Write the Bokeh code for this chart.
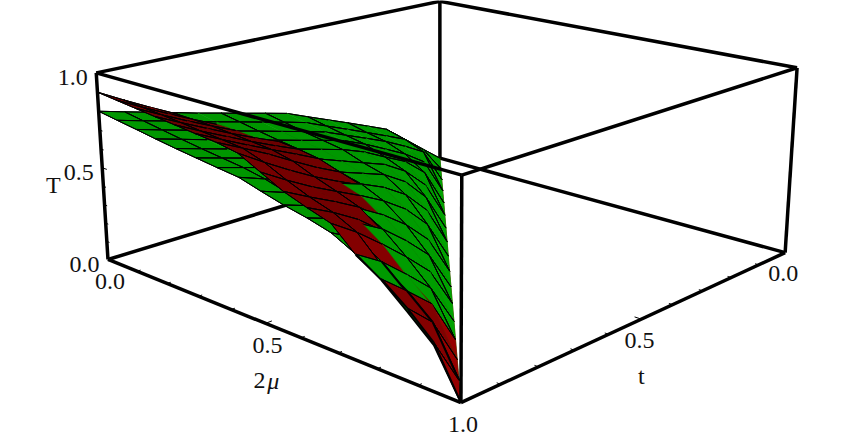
import numpy as np
from bokeh.plotting import figure
from bokeh.models import Range1d, ColumnDataSource
from bokeh.core.properties import value
from bokeh.embed import file_html
from bokeh.resources import INLINE

N = 16
levels = [i / N for i in range(N + 1)]   # shared grid of 2mu and t
tick_labels = ["0.0", "0.5", "1.0"]

# T x 1000; row j is t = j/16, entry k is 2mu = k/16, for 2mu <= t
green = [
 [0],
 [95,0],
 [191,156,0],
 [286,254,207,0],
 [338,308,276,213,0],
 [389,361,338,295,217,0],
 [439,413,390,358,318,215,0],
 [489,464,441,420,378,330,216,0],
 [540,516,492,473,441,403,340,218,0],
 [572,550,527,508,488,447,415,341,215,0],
 [603,582,560,541,523,492,458,417,336,212,0],
 [635,615,594,575,558,537,500,471,418,330,211,0],
 [666,647,627,607,591,575,543,511,483,420,326,210,0],
 [700,681,662,643,627,610,589,554,526,491,425,325,212,0],
 [733,715,696,677,660,645,630,598,567,540,494,430,323,213,0],
 [766,748,730,712,695,680,665,642,609,581,555,499,427,322,216,0],
 [800,782,765,747,730,715,700,686,653,622,597,565,504,426,323,215,0],
]
red = [
 [0],
 [57,0],
 [115,118,0],
 [172,183,173,0],
 [204,226,224,132,0],
 [252,279,268,262,206,0],
 [303,327,321,310,284,150,0],
 [359,379,374,364,347,276,130,0],
 [420,436,431,423,406,378,287,131,0],
 [470,482,482,471,458,431,393,314,129,0],
 [522,530,529,518,507,480,448,392,334,127,0],
 [577,581,579,569,558,539,501,465,389,327,131,0],
 [634,634,630,621,610,598,560,521,482,401,314,148,0],
 [696,693,687,677,666,655,628,581,541,497,415,317,200,0],
 [761,755,746,737,725,713,699,650,601,563,512,429,314,224,0],
 [829,819,809,798,785,774,762,724,670,623,585,527,410,330,226,0],
 [900,887,874,861,849,836,824,803,745,687,646,609,500,430,339,226,0],
]

# camera of the 3D box: unit-cube corners and where the reference shows them
cube = [(0,1,0),(0,1,1),(1,1,0),(1,1,1),(1,0,0),(1,0,1),(0,0,0),(0,0,1)]
seen = [(107,259),(96,73),(461,402),(461,174),(784,253),(797,67),(440,157),(439,1)]
A = []
for (X,Y,Z),(u,v) in zip(cube,seen):
    A.append([X,Y,Z,1,0,0,0,0,-u*X,-u*Y,-u*Z,-u])
    A.append([0,0,0,0,X,Y,Z,1,-v*X,-v*Y,-v*Z,-v])
P = np.linalg.svd(np.array(A,float))[2][-1].reshape(3,4)
if P[2,3] < 0: P = -P
def proj(m,t,z):
    h = P @ np.array([m,t,z,1.0]); return h[0]/h[2], h[1]/h[2], h[2]

def mesh_mu(i): return True
def mesh_t(j): return j % 2 == 1 or j == N
def mesh_w(a,b):
    if b >= N-1 and a >= 12: return 2.0
    return 1.0

cells = []
for i in range(N):
    for j in range(i,N):
        w = proj((levels[i]+levels[i+1])/2,(levels[j]+levels[j+1])/2,0)[2]
        cells.append((w,i,j))
cells.sort(reverse=True)

xs,ys,fc,fa,lc,lw = [],[],[],[],[],[]
def add(x,y,f,a,l,wd):
    xs.append(x);ys.append(y);fc.append(f);fa.append(a);lc.append(l);lw.append(wd)
for w,i,j in cells:
    q = [(i,j+1),(i+1,j+1),(i+1,j),(i,j)]
    q = [(a,b) for a,b in q if a <= b]
    surf = []
    for S,kind in ((green,'g'),(red,'r')):
        vals = [S[b][a]/1000 for a,b in q]
        surf.append((sum(vals),kind,vals))
    surf.sort(key=lambda s:s[0])
    for _,kind,vals in surf:
        pts = [proj(levels[a],levels[b],v) for (a,b),v in zip(q,vals)]
        s = min(abs(vals[0]-vals[1])*N/3,1)
        c = '#%02x0000'%int(105+45*s) if kind=='r' else '#00%02x00'%int(150+12*s)
        add([p[0] for p in pts],[p[1] for p in pts],c,1.0,c,0.6)
        m = len(q)
        for k in range(m):
            a1,b1 = q[k]; a2,b2 = q[(k+1)%m]
            on = (a1==a2 and b1!=b2 and mesh_mu(a1)) or (b1==b2 and a1!=a2 and mesh_t(b1))
            if on:
                add([pts[k][0],pts[(k+1)%m][0]],[pts[k][1],pts[(k+1)%m][1]],c,0.0,'#000000',
                    mesh_w(min(a1,a2),b1) if b1==b2 else 1.0)
src = ColumnDataSource(dict(x=xs,y=ys,fc=fc,fa=fa,lc=lc,lw=lw))

p = figure(width=844,height=439,x_range=Range1d(0,844),y_range=Range1d(439,0),output_backend="svg",toolbar_location=None,min_border=0)
p.axis.visible=False;p.grid.visible=False;p.outline_line_color=None
def edge(a,b,w=3.5):
    pa=proj(*a);pb=proj(*b)
    p.line([pa[0],pb[0]],[pa[1],pb[1]],line_color="black",line_width=w)
for a,b in [((0,0,0),(0,0,1)),((0,0,1),(0,1,1)),((0,0,1),(1,0,1)),((0,0,0),(0,1,0)),((0,0,0),(1,0,0))]: edge(a,b)
p.patches('x','y',source=src,fill_color='fc',fill_alpha='fa',line_color='lc',line_width='lw')
for a,b in [((0,1,0),(0,1,1)),((0,1,1),(1,1,1)),((1,1,1),(1,0,1)),((1,1,0),(1,1,1)),((1,0,0),(1,0,1)),((0,1,0),(1,1,0)),((1,1,0),(1,0,0))]: edge(a,b)
for k in range(1,10):
    v=k/10; L=.016 if k==5 else .009
    edge((0,1,v),(L,1,v),1)
    edge((v,1,0),(v,1-L,0),1)
    edge((1,v,0),(1-L,v,0),1)
def lab(pt,txt,dx,dy,style="normal"):
    a=proj(*pt)
    p.text([a[0]],[a[1]],text=[txt],x_offset=dx,y_offset=dy,text_align="center",text_baseline="middle",text_font=value("Liberation Serif"),text_font_size="24px",text_font_style=style,text_color="#111111")
for v,l in zip((0,.5,1),tick_labels):
    lab((0,1,v),l,-23.5,5)
    lab((v,1,0),l,2,22)
for v,l in zip((0,.5),tick_labels):
    lab((1,v,0),l,-2,21)
lab((0,1,.5),"T",-49,17)
lab((.5,1,0),"2",-6,57)
lab((.5,1,0),"μ",8,58,"italic")
lab((1,.5,0),"t",0,57)
open("out.html","w").write(file_html(p,INLINE))
